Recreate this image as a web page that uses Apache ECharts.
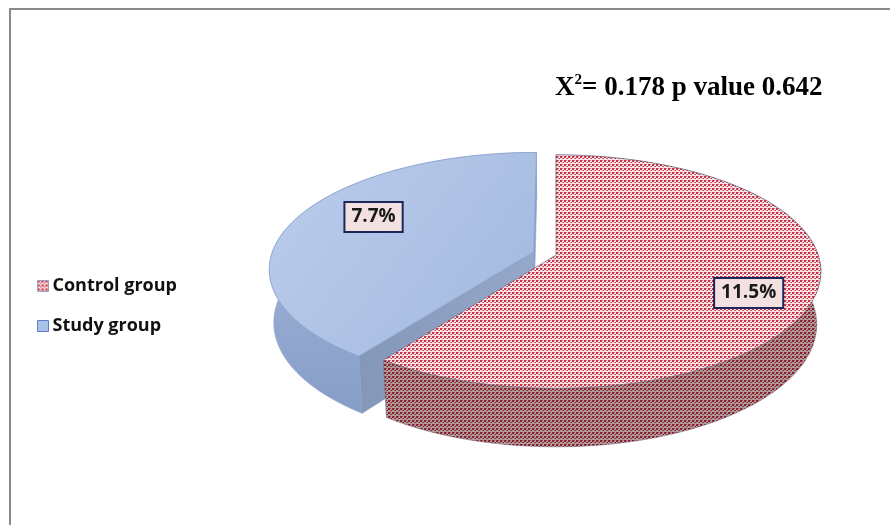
<!DOCTYPE html>
<html><head><meta charset="utf-8">
<script src="https://cdn.jsdelivr.net/npm/echarts/dist/echarts.min.js"></script>
<style>html,body{margin:0;padding:0;background:#fff}#c{width:890px;height:525px}</style>
</head><body><div id="c"></div>
<script>
// ---- data ----
const categories = ['Control group', 'Study group'];
const values = [11.5, 7.7];
const titleParts = ['X', '2', '= 0.178 p value 0.642'];
const explode = [0, 0.09];

// ---- patterns ----
function makeTile(bg, dot, mid){
  const c = document.createElement('canvas'); c.width = 4; c.height = 4;
  const g = c.getContext('2d');
  g.fillStyle = bg; g.fillRect(0,0,4,4);
  g.fillStyle = mid; g.fillRect(2,2,2,1); g.fillRect(2,0,1,1);
  g.fillStyle = dot; g.fillRect(0,0,2,2); g.fillRect(3,2,1,1);
  return c;
}
const patTop = {image: makeTile('#f9e4e6', '#c63349', '#df7f8e'), repeat: 'repeat'};
const patSide = {image: makeTile('#ad9c97', '#8a1f30', '#9d505b'), repeat: 'repeat'};

// ---- projection (3D pie) ----
const CX = 556, CY = 255, K = 1665, D = 6.35, SN = 0.436, CS = Math.sqrt(1 - SN*SN), H = 0.226;
function P(X, Y, Z){
  const depth = D - Y*SN + Z*CS;
  const up = Y*CS + Z*SN;
  return [CX + K*X/depth, CY - K*up/depth];
}
function area(pts){
  let s = 0;
  for (let i = 0; i < pts.length; i++){ const a = pts[i], b = pts[(i+1)%pts.length]; s += a[0]*b[1] - b[0]*a[1]; }
  return s;
}

const topFill = [patTop, {type:'linear', x:0, y:0, x2:1, y2:1, colorStops:[{offset:0, color:'#bccdec'},{offset:1, color:'#a2b8df'}]}];
const sideFill = [patSide, {type:'linear', x:0, y:0, x2:0, y2:1, colorStops:[{offset:0, color:'#a8bce0'},{offset:1, color:'#869dc6'}]}];
const faceFill = [patSide, {type:'linear', x:0, y:0, x2:1, y2:0, colorStops:[{offset:0, color:'#8497b8'},{offset:1, color:'#95a8c8'}]}];
const edgeCol = ['rgba(100,95,120,0.75)', '#8aa3cf'];
const labelFrac = [0.53, 0.56], labelR = [0.77, 0.72];

function makeRender(idx){
  return function(params, api){
    const total = values.reduce((a, b) => a + b, 0);
    let acc = 0; for (let j = 0; j < idx; j++) acc += values[j];
    const v = api.value(0);
    const a0 = acc/total*2*Math.PI, a1 = (acc + v)/total*2*Math.PI;
    const mid = (a0 + a1)/2, e = explode[idx];
    const ox = e*Math.sin(mid), oz = e*Math.cos(mid);
    const N = 90, topArc = [], botArc = [];
    for (let k = 0; k <= N; k++){
      const t = a0 + (a1 - a0)*k/N;
      topArc.push(P(ox + Math.sin(t), 0, oz + Math.cos(t)));
      botArc.push(P(ox + Math.sin(t), -H, oz + Math.cos(t)));
    }
    const apexT = P(ox, 0, oz), apexB = P(ox, -H, oz);
    const children = [];
    children.push({type:'polygon', shape:{points: topArc.concat(botArc.slice().reverse())},
      style:{fill: sideFill[idx], stroke: edgeCol[idx], lineWidth: 0.6}});
    const f0 = [apexT, topArc[0], botArc[0], apexB];
    const f1 = [apexT, topArc[N], botArc[N], apexB];
    if (area(f0) < -1) children.push({type:'polygon', shape:{points:f0}, style:{fill: faceFill[idx], stroke: edgeCol[idx], lineWidth:0.6}});
    if (area(f1) > 1) children.push({type:'polygon', shape:{points:f1}, style:{fill: faceFill[idx], stroke: edgeCol[idx], lineWidth:0.6}});
    children.push({type:'polygon', shape:{points:[apexT].concat(topArc)},
      style:{fill: topFill[idx], stroke: edgeCol[idx], lineWidth: 0.8}});
    const la = a0 + (a1 - a0)*labelFrac[idx], lr = labelR[idx];
    const lp = P(ox + lr*Math.sin(la), 0, oz + lr*Math.cos(la));
    children.push({type:'text', x: lp[0], y: lp[1], z2: 10,
      style:{text: v + '%', align:'center', verticalAlign:'middle', fill:'#1a1a1a',
        fontFamily:'Open Sans', fontWeight:'bold', fontSize:19,
        backgroundColor:'#f3e0e0', borderColor:'#1c2558', borderWidth:2, padding:[5,6,4,6]}});
    return {type:'group', children};
  };
}

const chart = echarts.init(document.getElementById('c'));
chart.setOption({
  animation: false,
  backgroundColor: '#ffffff',
  legend: {
    orient: 'vertical', left: 37, top: 277, padding: 0, itemWidth: 11, itemHeight: 11, itemGap: 22,
    selectedMode: false,
    textStyle: {fontFamily: 'Open Sans', fontWeight: 'bold', fontSize: 18, color: '#111', padding: [0,0,0,-1]},
    data: [
      {name: categories[0], icon: 'rect', itemStyle: {color: patTop, borderColor: '#9aa0c0', borderWidth: 1}},
      {name: categories[1], icon: 'rect', itemStyle: {color: '#aac1e8', borderColor: '#5e80c2', borderWidth: 1}}
    ]
  },
  graphic: [
    {type: 'rect', shape: {x: 10, y: 9, width: 1000, height: 1000}, style: {fill: 'none', stroke: '#8a8a8a', lineWidth: 2}, silent: true},
    {type: 'text', x: 555, y: 73, style: {
      text: '{x|' + titleParts[0] + '}{s|' + titleParts[1] + '}{m|' + titleParts[2] + '}',
      rich: {
        x: {fontFamily: 'Liberation Serif', fontWeight: 'bold', fontSize: 27, lineHeight: 30, fill: '#000'},
        s: {fontFamily: 'Liberation Serif', fontWeight: 'bold', fontSize: 15, lineHeight: 30, verticalAlign: 'top', fill: '#000'},
        m: {fontFamily: 'Liberation Serif', fontWeight: 'bold', fontSize: 27, lineHeight: 30, fill: '#000'}
      }
    }}
  ],
  series: categories.map((c, i) => ({
    type: 'custom', name: c, coordinateSystem: 'none', z: i === 0 ? 3 : 2,
    itemStyle: {color: i === 0 ? patTop : '#aac1e8'},
    renderItem: makeRender(i),
    data: [[values[i]]]
  }))
});
</script></body></html>
